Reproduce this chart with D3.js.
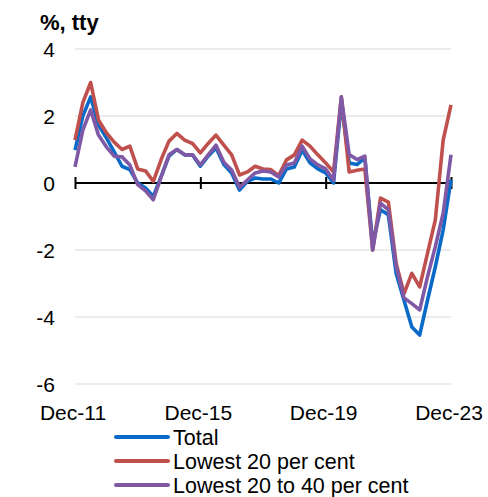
<!DOCTYPE html>
<html>
<head>
<meta charset="utf-8">
<script src="https://cdn.jsdelivr.net/npm/d3@7"></script>
<style>
  body { margin: 0; background: #fff; }
  svg { display: block; font-family: "Liberation Sans", Arial, sans-serif; }
</style>
</head>
<body>
<svg id="chart" width="488" height="497"></svg>
<script>
// Quarterly observations, Dec-11 .. Dec-23
const quarters = d3.timeMonth.range(new Date(2011, 11, 1), new Date(2024, 0, 1), 3);
const xTickLabels = ["Dec-11", "Dec-15", "Dec-19", "Dec-23"];
const yTicks = [-6, -4, -2, 0, 2, 4];

const total = [0.98, 2.0, 2.57, 1.73, 1.35, 0.93, 0.5, 0.4, 0.0, -0.15, -0.4, 0.2,
  0.8, 1.0, 0.84, 0.84, 0.5, 0.8, 1.05, 0.55, 0.3, -0.21, 0.05, 0.15,
  0.12, 0.12, 0.0, 0.42, 0.48, 0.98, 0.6, 0.42, 0.3, 0.0, 2.39, 0.6,
  0.55, 0.75, -1.8, -0.8, -0.95, -2.7, -3.5, -4.3, -4.54, -3.5, -2.5, -1.4, 0.1];
const lowest20 = [1.28, 2.4, 3.0, 1.88, 1.5, 1.22, 1.0, 1.1, 0.42, 0.36, 0.05, 0.7,
  1.25, 1.48, 1.28, 1.18, 0.9, 1.18, 1.43, 1.13, 0.84, 0.24, 0.33, 0.5,
  0.42, 0.4, 0.22, 0.69, 0.84, 1.28, 1.1, 0.84, 0.6, 0.33, 2.57, 0.33,
  0.38, 0.42, -2.0, -0.45, -0.57, -2.4, -3.3, -2.7, -3.1, -2.1, -1.1, 1.28, 2.33];
const lowest20to40 = [0.48, 1.58, 2.18, 1.43, 1.08, 0.8, 0.78, 0.54, -0.05, -0.23, -0.5, 0.18,
  0.84, 1.0, 0.84, 0.84, 0.54, 0.84, 1.13, 0.62, 0.39, -0.13, 0.09, 0.3,
  0.36, 0.33, 0.18, 0.54, 0.6, 1.1, 0.72, 0.54, 0.42, 0.09, 2.57, 0.85,
  0.7, 0.8, -2.0, -0.6, -0.8, -2.5, -3.43, -3.6, -3.79, -2.8, -1.9, -0.9, 0.84];

const seriesNames = ["Total", "Lowest 20 per cent", "Lowest 20 to 40 per cent"];
const seriesColors = ["#0A6AC8", "#C0504D", "#8059A6"];
const seriesData = [total, lowest20, lowest20to40];

const svg = d3.select("#chart");
const x = d3.scaleLinear().domain([0, quarters.length - 1]).range([75, 451]);
const y = d3.scaleLinear().domain([-6, 4]).range([384, 49]);

// gridlines
svg.append("g").selectAll("line").data(yTicks.filter(d => d !== 0)).join("line")
  .attr("x1", x(0)).attr("x2", x(quarters.length - 1))
  .attr("y1", d => y(d)).attr("y2", d => y(d))
  .attr("stroke", "#d9d9d9").attr("stroke-width", 1);

// y labels (plain hyphen minus as in the reference)
const yAxis = d3.axisLeft(y).tickValues(yTicks).tickSize(0).tickPadding(0)
  .tickFormat(d => String(d));
const gy = svg.append("g").attr("transform", "translate(55,0)").call(yAxis);
gy.select(".domain").remove();
gy.selectAll("text").attr("font-size", 21).attr("fill", "#000")
  .attr("font-family", "Liberation Sans, Arial, sans-serif").attr("dy", "0.35em");

// zero axis with ticks
const tickIdx = [0, 16, 32, 48];
const xAxis = d3.axisBottom(x).tickValues(tickIdx).tickSizeInner(12).tickSizeOuter(0).tickFormat("");
const gx = svg.append("g").attr("transform", `translate(0,${y(0) - 6})`).call(xAxis);
gx.select(".domain").remove();
gx.selectAll(".tick line").attr("stroke", "#000").attr("stroke-width", 2);
svg.append("line").attr("x1", x(0)).attr("x2", x(quarters.length - 1))
  .attr("y1", y(0)).attr("y2", y(0)).attr("stroke", "#000").attr("stroke-width", 2);

// x labels
svg.append("g").selectAll("text").data(tickIdx).join("text")
  .attr("x", d => x(d) - 2).attr("y", 420)
  .attr("text-anchor", "middle").attr("font-size", 21).attr("fill", "#000")
  .text((d, i) => xTickLabels[i]);

// lines
const line = d3.line().x((d, i) => x(i)).y(d => y(d));
seriesData.forEach((s, k) => {
  svg.append("path").datum(s).attr("d", line)
    .attr("fill", "none").attr("stroke", seriesColors[k])
    .attr("stroke-width", 3.6).attr("stroke-linejoin", "round");
});

// unit label
svg.append("text").attr("x", 40).attr("y", 30).attr("font-size", 22)
  .attr("font-weight", "bold").attr("fill", "#000").text("%, tty");

// legend
const lg = svg.append("g");
seriesNames.forEach((n, k) => {
  const yy = 437 + k * 24;
  lg.append("line").attr("x1", 116).attr("x2", 168).attr("y1", yy).attr("y2", yy)
    .attr("stroke", seriesColors[k]).attr("stroke-width", 4).attr("stroke-linecap", "round");
  lg.append("text").attr("x", 173).attr("y", yy + 8).attr("font-size", 21.5)
    .attr("fill", "#000").text(n);
});
</script>
</body>
</html>
